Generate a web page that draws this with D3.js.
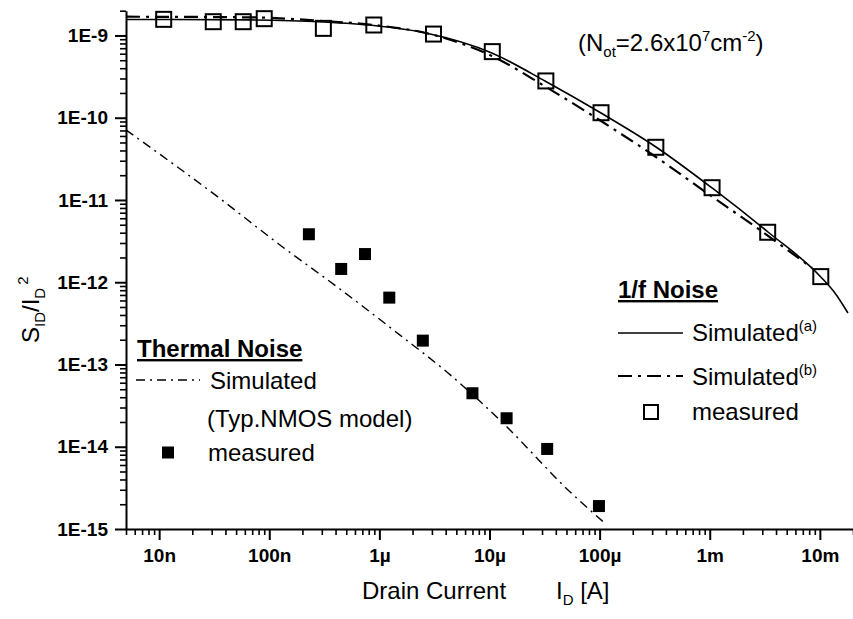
<!DOCTYPE html>
<html>
<head>
<meta charset="utf-8">
<script src="https://cdn.jsdelivr.net/npm/d3@7/dist/d3.min.js"></script>
<style>
  html, body { margin: 0; padding: 0; background: #fff; }
  svg { display: block; font-family: "Liberation Sans", Arial, Helvetica, sans-serif; }
  .axis path, .axis line { stroke: #000; }
  .axis text { font-weight: bold; font-size: 19px; fill: #000; }
</style>
</head>
<body>
<svg id="chart" width="853" height="619"></svg>
<script>
// Drain current sweep for the 1/f noise measurements (A)
const flickerCurrent = [1.1e-8, 3.1e-8, 5.8e-8, 9.0e-8, 3.1e-7, 8.9e-7, 3.1e-6, 1.06e-5, 3.25e-5, 1.03e-4, 3.24e-4, 1.05e-3, 3.36e-3, 1.02e-2];
// Measured normalized 1/f noise S_ID/I_D^2
const flickerMeasured = [1.57e-9, 1.47e-9, 1.47e-9, 1.6e-9, 1.22e-9, 1.34e-9, 1.04e-9, 6.36e-10, 2.8e-10, 1.15e-10, 4.37e-11, 1.41e-11, 4.05e-12, 1.17e-12];

// Simulated 1/f noise, model (a)
const simACurrent = [5e-9, 6.67e-8, 3.07e-7, 8.9e-7, 2.64e-6, 1.05e-5, 3.25e-5, 1.03e-4, 3.25e-4, 1.05e-3, 3.38e-3, 1.02e-2, 1.37e-2, 1.8e-2];
const simAValues  = [1.565e-9, 1.545e-9, 1.46e-9, 1.32e-9, 1.07e-9, 6.12e-10, 2.76e-10, 1.14e-10, 4.41e-11, 1.40e-11, 4.08e-12, 1.16e-12, 7.4e-13, 4.23e-13];

// Simulated 1/f noise, model (b)
const simBCurrent = [5e-9, 6.67e-8, 3.07e-7, 8.9e-7, 2.64e-6, 1.05e-5, 3.25e-5, 1.03e-4, 3.25e-4, 9.4e-4, 2.86e-3, 8.5e-3];
const simBValues  = [1.69e-9, 1.66e-9, 1.5e-9, 1.34e-9, 1.07e-9, 5.64e-10, 2.37e-10, 9.12e-11, 3.33e-11, 1.22e-11, 4.31e-12, 1.49e-12];

// Thermal noise: measured points
const thermalCurrent  = [2.29e-7, 4.5e-7, 7.4e-7, 1.23e-6, 2.48e-6, 7.0e-6, 1.43e-5, 3.34e-5, 9.86e-5];
const thermalMeasured = [3.83e-12, 1.45e-12, 2.2e-12, 6.5e-13, 1.95e-13, 4.47e-14, 2.22e-14, 9.4e-15, 1.9e-15];

// Thermal noise: simulated with the typical NMOS model
const thermalSimCurrent = [5e-9, 3.41e-8, 1.25e-7, 4.38e-7, 1.53e-6, 4.1e-6, 1.32e-5, 5.37e-5, 1.12e-4];
const thermalSimValues  = [7.1e-11, 1.09e-11, 2.84e-12, 8.28e-13, 2.29e-13, 8.1e-14, 1.95e-14, 2.84e-15, 1.17e-15];

// Axis ticks
const xTickValues = [1e-8, 1e-7, 1e-6, 1e-5, 1e-4, 1e-3, 1e-2];
const xTickLabels = ["10n", "100n", "1µ", "10µ", "100µ", "1m", "10m"];
const yTickValues = [1e-9, 1e-10, 1e-11, 1e-12, 1e-13, 1e-14, 1e-15];
const yTickLabels = ["1E-9", "1E-10", "1E-11", "1E-12", "1E-13", "1E-14", "1E-15"];

const svg = d3.select("#chart");
const plotLeft = 126, plotRight = 853, plotTop = 10.7, plotBottom = 529;

const x = d3.scaleLog().domain([5e-9, 2e-2]).range([plotLeft, plotRight]);
const y = d3.scaleLog().domain([1e-15, 2e-9]).range([plotBottom, plotTop]);

// minor ticks at 2..9 of each decade inside the domain
function minorTicks(scale) {
  const [a, b] = scale.domain();
  const out = [];
  for (let e = Math.floor(Math.log10(a)); e <= Math.ceil(Math.log10(b)); e++) {
    for (let m = 2; m <= 9; m++) {
      const v = m * Math.pow(10, e);
      if (v >= a * 0.999 && v <= b * 1.001) out.push(v);
    }
  }
  return out;
}

// x axis
svg.append("g").attr("class", "axis")
  .attr("transform", `translate(0,${plotBottom})`)
  .call(d3.axisBottom(x).tickValues(minorTicks(x)).tickFormat("").tickSize(6).tickSizeOuter(0))
  .call(g => g.select(".domain").remove())
  .selectAll("line").attr("stroke-width", 1.6);
const xAx = svg.append("g").attr("class", "axis")
  .attr("transform", `translate(0,${plotBottom})`)
  .call(d3.axisBottom(x).tickValues(xTickValues)
    .tickFormat((d, i) => xTickLabels[i]).tickSize(11).tickSizeOuter(0).tickPadding(9));
xAx.select(".domain").attr("stroke-width", 2);
xAx.selectAll("line").attr("stroke-width", 2);

// y axis
svg.append("g").attr("class", "axis")
  .attr("transform", `translate(${plotLeft},0)`)
  .call(d3.axisLeft(y).tickValues(minorTicks(y)).tickFormat("").tickSize(6).tickSizeOuter(0))
  .call(g => g.select(".domain").remove())
  .selectAll("line").attr("stroke-width", 1.6);
const yAx = svg.append("g").attr("class", "axis")
  .attr("transform", `translate(${plotLeft},0)`)
  .call(d3.axisLeft(y).tickValues(yTickValues)
    .tickFormat((d, i) => yTickLabels[i]).tickSize(11).tickSizeOuter(0).tickPadding(7));
yAx.select(".domain").attr("stroke-width", 2);
yAx.selectAll("line").attr("stroke-width", 2);

// curves
const line = d3.line().x(d => x(d[0])).y(d => y(d[1])).curve(d3.curveMonotoneX);
const zip = (a, b) => a.map((v, i) => [v, b[i]]);

svg.append("path").datum(zip(thermalSimCurrent, thermalSimValues))
  .attr("d", line).attr("fill", "none").attr("stroke", "#000")
  .attr("stroke-width", 1.4).attr("stroke-dasharray", "9,5,2,5");

svg.append("path").datum(zip(simBCurrent, simBValues))
  .attr("d", line).attr("fill", "none").attr("stroke", "#000")
  .attr("stroke-width", 2.2).attr("stroke-dasharray", "14,6,3,6");

svg.append("path").datum(zip(simACurrent, simAValues))
  .attr("d", line).attr("fill", "none").attr("stroke", "#000")
  .attr("stroke-width", 1.6);

// measured markers
svg.append("g").selectAll("rect").data(zip(flickerCurrent, flickerMeasured)).join("rect")
  .attr("x", d => x(d[0]) - 7.5).attr("y", d => y(d[1]) - 7.5)
  .attr("width", 15).attr("height", 15)
  .attr("fill", "none").attr("stroke", "#000").attr("stroke-width", 2);

svg.append("g").selectAll("rect").data(zip(thermalCurrent, thermalMeasured)).join("rect")
  .attr("x", d => x(d[0]) - 6).attr("y", d => y(d[1]) - 6)
  .attr("width", 12).attr("height", 12).attr("fill", "#000");

// axis titles
const xt = svg.append("text").attr("x", 362).attr("y", 599)
  .attr("font-size", 24).attr("fill", "#000");
xt.append("tspan").text("Drain Current");
xt.append("tspan").attr("x", 556).text("I");
xt.append("tspan").attr("font-size", 15).attr("dy", 6).text("D");
xt.append("tspan").attr("dy", -6).text(" [A]");

const yt = svg.append("text")
  .attr("transform", "translate(39,343) rotate(-90)")
  .attr("font-size", 24).attr("fill", "#000");
yt.append("tspan").text("S");
yt.append("tspan").attr("font-size", 15).attr("dy", 6).text("ID");
yt.append("tspan").attr("dy", -6).text("/I");
yt.append("tspan").attr("font-size", 15).attr("dy", 6).text("D");
yt.append("tspan").attr("font-size", 15).attr("dy", -17).attr("dx", 3).text("2");

// trap density annotation
const ann = svg.append("text").attr("x", 578).attr("y", 51)
  .attr("font-size", 24).attr("fill", "#000");
ann.append("tspan").text("(N");
ann.append("tspan").attr("font-size", 15).attr("dy", 6).text("ot");
ann.append("tspan").attr("dy", -6).text("=2.6x10");
ann.append("tspan").attr("font-size", 15).attr("dy", -10).text("7");
ann.append("tspan").attr("dy", 10).text("cm");
ann.append("tspan").attr("font-size", 15).attr("dy", -10).text("-2");
ann.append("tspan").attr("dy", 10).text(")");

// legend: thermal noise
const lg1 = svg.append("g");
lg1.append("text").attr("x", 137).attr("y", 357).attr("font-size", 24)
  .attr("font-weight", "bold").attr("text-decoration", "underline").text("Thermal Noise");
lg1.append("line").attr("x1", 136).attr("x2", 200).attr("y1", 380).attr("y2", 380)
  .attr("stroke", "#000").attr("stroke-width", 1.4).attr("stroke-dasharray", "9,5,2,5");
lg1.append("text").attr("x", 210).attr("y", 389).attr("font-size", 24).text("Simulated");
lg1.append("text").attr("x", 207).attr("y", 427).attr("font-size", 24).text("(Typ.NMOS model)");
lg1.append("rect").attr("x", 162).attr("y", 446.5).attr("width", 12).attr("height", 12).attr("fill", "#000");
lg1.append("text").attr("x", 208).attr("y", 461).attr("font-size", 24).text("measured");

// legend: 1/f noise
const lg2 = svg.append("g");
lg2.append("text").attr("x", 618).attr("y", 298).attr("font-size", 24)
  .attr("font-weight", "bold").attr("text-decoration", "underline").text("1/f Noise");
lg2.append("line").attr("x1", 618).attr("x2", 683).attr("y1", 333).attr("y2", 333)
  .attr("stroke", "#000").attr("stroke-width", 1.6);
const sa = lg2.append("text").attr("x", 692).attr("y", 341).attr("font-size", 24);
sa.append("tspan").text("Simulated");
sa.append("tspan").attr("font-size", 15).attr("dy", -10).text("(a)");
lg2.append("line").attr("x1", 618).attr("x2", 683).attr("y1", 376).attr("y2", 376)
  .attr("stroke", "#000").attr("stroke-width", 2.2).attr("stroke-dasharray", "14,6,3,6");
const sb = lg2.append("text").attr("x", 692).attr("y", 385).attr("font-size", 24);
sb.append("tspan").text("Simulated");
sb.append("tspan").attr("font-size", 15).attr("dy", -10).text("(b)");
lg2.append("rect").attr("x", 644).attr("y", 405).attr("width", 14).attr("height", 14)
  .attr("fill", "none").attr("stroke", "#000").attr("stroke-width", 2);
lg2.append("text").attr("x", 692).attr("y", 420).attr("font-size", 24).text("measured");
</script>
</body>
</html>
